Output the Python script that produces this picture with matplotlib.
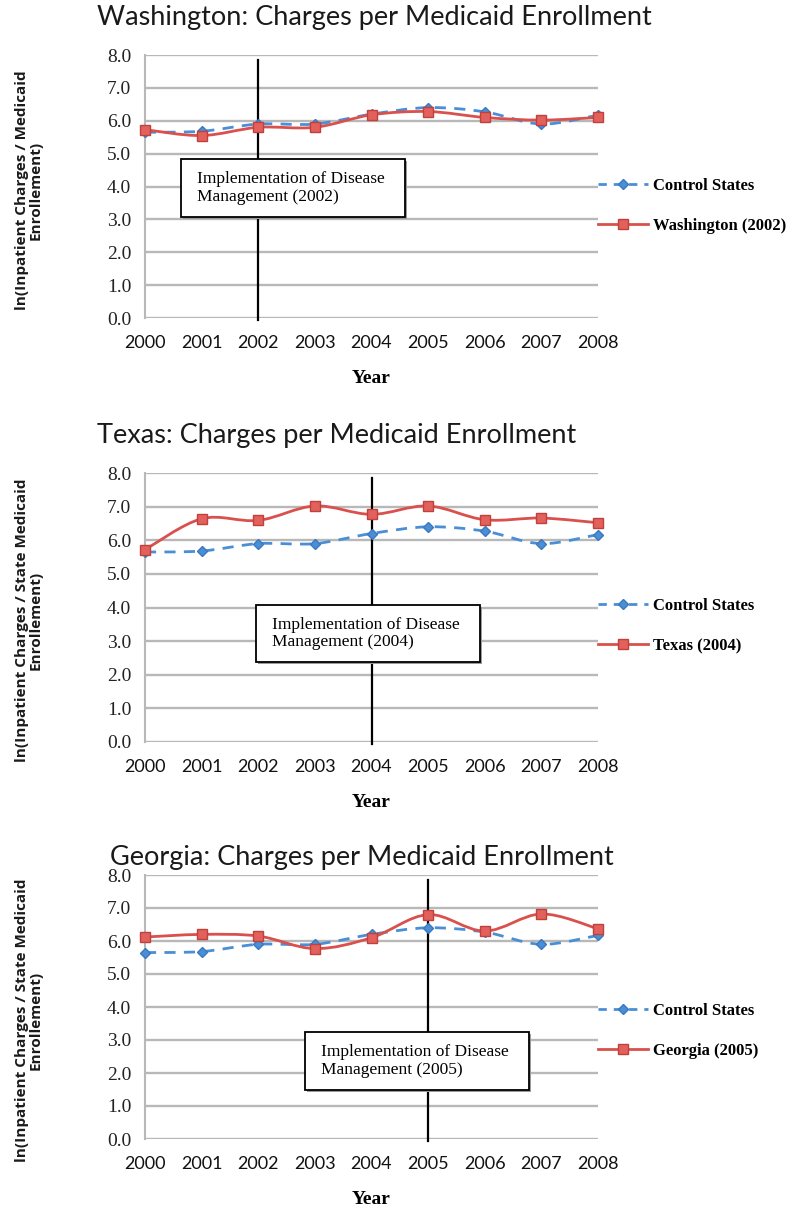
import matplotlib.pyplot as plt
import numpy as np
from matplotlib.path import Path
from matplotlib.patches import PathPatch, Rectangle
from matplotlib.lines import Line2D

# data
years = [2000, 2001, 2002, 2003, 2004, 2005, 2006, 2007, 2008]
control = [5.65, 5.68, 5.9, 5.9, 6.2, 6.4, 6.27, 5.9, 6.17]
washington = [5.73, 5.55, 5.8, 5.8, 6.18, 6.28, 6.1, 6.02, 6.1]
texas = [5.72, 6.64, 6.59, 7.02, 6.77, 7.02, 6.61, 6.66, 6.52]
georgia = [6.12, 6.2, 6.15, 5.77, 6.1, 6.8, 6.3, 6.82, 6.37]
yticks = [0.0, 1.0, 2.0, 3.0, 4.0, 5.0, 6.0, 7.0, 8.0]

W, H = 798, 1210
BLUE = '#4a8fd6'
RED = '#d9504c'
GRID = '#b8b8b8'


def smooth_path(x, y):
    """Excel-like smoothed line: cubic Bezier through every point."""
    x = np.asarray(x, float)
    y = np.asarray(y, float)
    px = np.concatenate([[x[0]], x, [x[-1]]])
    py = np.concatenate([[y[0]], y, [y[-1]]])
    verts = [(x[0], y[0])]
    codes = [Path.MOVETO]
    for i in range(1, len(x)):
        c1 = (px[i] + (px[i + 1] - px[i - 1]) / 6, py[i] + (py[i + 1] - py[i - 1]) / 6)
        c2 = (px[i + 1] - (px[i + 2] - px[i]) / 6, py[i + 1] - (py[i + 2] - py[i]) / 6)
        verts += [c1, c2, (x[i], y[i])]
        codes += [Path.CURVE4] * 3
    return Path(verts, codes)


def panel(fig, top_px, bot_px, vals, label, year, box, title, title_xy, ylabel, ylab_y, leg_y):
    ax = fig.add_axes([145 / W, 1 - bot_px / H, 453 / W, (bot_px - top_px) / H])
    ax.set_xlim(2000, 2008)
    ax.set_ylim(0, 8)
    ax.set_yticks(yticks)
    ax.set_yticklabels([f'{v:.1f}' for v in yticks], fontfamily='Liberation Serif', fontsize=14, color='#222222')
    ax.set_xticks(years)
    ax.set_xticklabels([str(y) for y in years], fontfamily='Lato', fontsize=13, color='#111111')
    ax.tick_params(length=0, axis='y', pad=10)
    ax.tick_params(length=0, axis='x', pad=12)
    for s in ['top', 'right', 'bottom']:
        ax.spines[s].set_visible(False)
    ax.spines['left'].set_color(GRID)
    ax.spines['left'].set_linewidth(1.5)
    ax.grid(axis='y', color=GRID, linewidth=1.7)
    ax.set_axisbelow(True)

    # implementation year marker
    ax.plot([year, year], [-0.05, 7.85], color='black', lw=1.6, zorder=3, clip_on=False)

    # series
    ax.add_patch(PathPatch(smooth_path(years, control), fill=False, edgecolor=BLUE,
                           lw=2.0, linestyle=(0, (4, 3)), zorder=4))
    ax.plot(years, control, linestyle='none', marker='D', ms=5.5, color=BLUE,
            mec='#3a78bf', zorder=5, clip_on=False)
    ax.add_patch(PathPatch(smooth_path(years, vals), fill=False, edgecolor=RED,
                           lw=2.0, zorder=6))
    ax.plot(years, vals, linestyle='none', marker='s', ms=7.5, color='#e2615c',
            mec='#c0403c', mew=1.0, zorder=7, clip_on=False)

    # annotation box
    x0, y0, x1, y1 = box
    ax.add_patch(Rectangle((x0 + 0.004, y0 - 0.008), x1 - x0, y1 - y0, transform=ax.transAxes,
                           facecolor='#9a9a9a', edgecolor='none', zorder=8, clip_on=False))
    ax.add_patch(Rectangle((x0, y0), x1 - x0, y1 - y0, transform=ax.transAxes,
                           facecolor='white', edgecolor='black', lw=1.3, zorder=9, clip_on=False))
    ax.text(x0 + 0.035, (y0 + y1) / 2, f'Implementation of Disease\nManagement ({year})',
            transform=ax.transAxes, ha='left', va='center', fontfamily='Liberation Serif',
            fontsize=12.5, zorder=10, linespacing=1.15)

    fig.text(title_xy[0] / W, 1 - title_xy[1] / H, title, fontfamily='Lato', fontsize=19.5,
             ha='left', va='center', color='#1a1a1a')
    fig.text(29 / W, 1 - ylab_y / H, ylabel, rotation=90, ha='center', va='center',
             fontfamily='Open Sans', fontweight='bold', fontsize=11, linespacing=1.0, color='#1a1a1a')
    ax.set_xlabel('Year', fontfamily='Liberation Serif', fontweight='bold', fontsize=14, labelpad=14)

    handles = [
        Line2D([], [], color=BLUE, lw=2.0, linestyle=(0, (3, 2.5)), marker='D', ms=5.5, mec='#3a78bf'),
        Line2D([], [], color=RED, lw=2.0, marker='s', ms=7.5, mfc='#e2615c', mec='#c0403c'),
    ]
    ax.legend(handles, ['Control States', label], loc='center left',
              bbox_to_anchor=(598 / W, 1 - leg_y / H), bbox_transform=fig.transFigure,
              frameon=False, prop={'family': 'Liberation Serif', 'weight': 'bold', 'size': 12},
              handlelength=3.0, handletextpad=0.3, labelspacing=1.45, borderpad=0, borderaxespad=0)
    return ax


fig = plt.figure(figsize=(W / 100, H / 100), dpi=100)

panel(fig, 55, 318, washington, 'Washington (2002)', 2002, (0.079, 0.384, 0.574, 0.605),
      'Washington: Charges per Medicaid Enrollment', (97, 18),
      'ln(Inpatient Charges / Medicaid\nEnrollement)', 190, 206)
panel(fig, 473, 742, texas, 'Texas (2004)', 2004, (0.245, 0.297, 0.740, 0.509),
      'Texas: Charges per Medicaid Enrollment', (97, 435),
      'ln(Inpatient Charges / State Medicaid\nEnrollement)', 620, 626)
panel(fig, 875, 1139, georgia, 'Georgia (2005)', 2005, (0.353, 0.186, 0.848, 0.405),
      'Georgia: Charges per Medicaid Enrollment', (110, 857),
      'ln(Inpatient Charges / State Medicaid\nEnrollement)', 1020, 1031)

fig.savefig('out.png', dpi=100, facecolor='white')
